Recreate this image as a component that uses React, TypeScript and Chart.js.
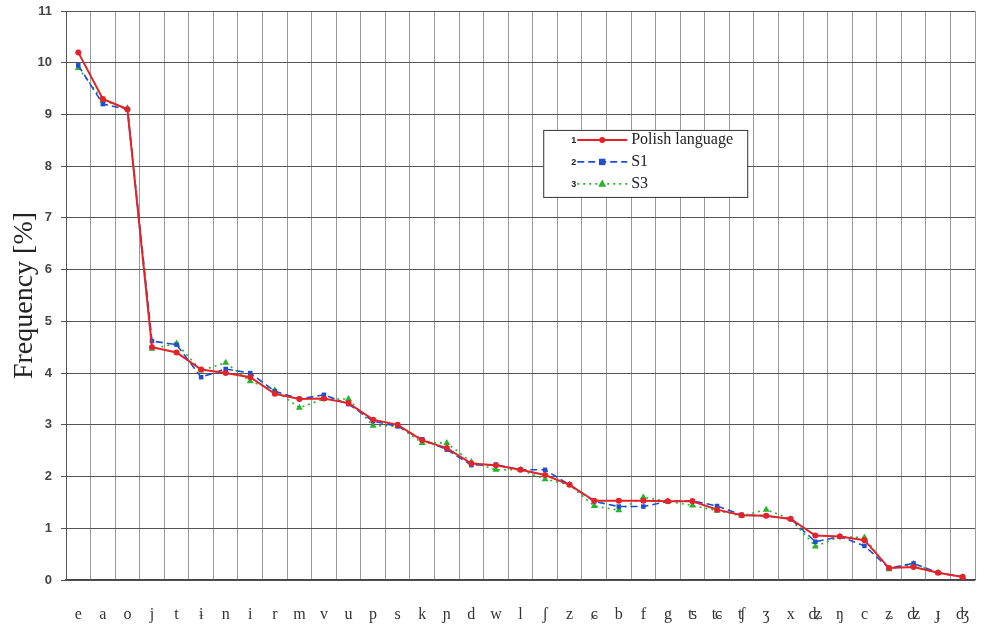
import React, { useEffect, useRef } from "react";
import { Chart, registerables } from "chart.js";

Chart.register(...registerables);

const categories = [
  "e", "a", "o", "j", "t", "ɨ", "n", "i", "r", "m", "v", "u", "p", "s", "k", "ɲ", "d", "w", "l",
  "ʃ", "z", "ɕ", "b", "f", "g", "ʦ", "ʨ", "ʧ", "ʒ", "x", "ʥ", "ŋ", "c", "ʑ", "ʣ", "ɟ", "ʤ",
];

const polish = [
  10.2, 9.3, 9.1, 4.5, 4.4, 4.07, 4.0, 3.92, 3.6, 3.5, 3.51, 3.42, 3.1, 3.0, 2.7, 2.55, 2.25, 2.22,
  2.13, 2.03, 1.84, 1.53, 1.53, 1.53, 1.52, 1.52, 1.36, 1.25, 1.24, 1.18, 0.86, 0.84, 0.77, 0.23,
  0.25, 0.14, 0.06,
];

const s1 = [
  9.95, 9.2, 9.1, 4.62, 4.55, 3.92, 4.08, 4.0, 3.65, 3.5, 3.58, 3.4, 3.07, 2.97, 2.72, 2.52, 2.22,
  2.23, 2.13, 2.13, 1.84, 1.52, 1.42, 1.42, 1.52, 1.53, 1.43, 1.26, 1.24, 1.18, 0.74, 0.84, 0.66,
  0.23, 0.32, 0.14, 0.06,
];

const s3 = [
  9.9, 9.27, 9.12, 4.47, 4.57, 4.05, 4.2, 3.84, 3.67, 3.33, 3.5, 3.5, 2.98, 2.98, 2.65, 2.65, 2.28,
  2.13, 2.13, 1.95, 1.84, 1.43, 1.35, 1.6, 1.52, 1.44, 1.34, 1.24, 1.36, 1.18, 0.65, 0.84, 0.82,
  0.21, 0.31, 0.14, 0.06,
];

const seriesLabels = ["Polish language", "S1", "S3"];
const legendNumbers = ["1", "2", "3"];
const yTitle = "Frequency [%]";

const RED = "#e3222b";
const BLUE = "#1f4fd0";
const GREEN = "#26b52a";

function drawMarker(ctx: CanvasRenderingContext2D, style: string, x: number, y: number, r: number, color: string) {
  ctx.save();
  ctx.fillStyle = color;
  ctx.setLineDash([]);
  ctx.beginPath();
  if (style === "circle") {
    ctx.arc(x, y, r, 0, Math.PI * 2);
  } else if (style === "rect") {
    ctx.rect(x - r, y - r, r * 2, r * 2);
  } else {
    ctx.moveTo(x, y - r * 1.1);
    ctx.lineTo(x + r, y + r * 0.7);
    ctx.lineTo(x - r, y + r * 0.7);
    ctx.closePath();
  }
  ctx.fill();
  ctx.restore();
}

const legendPlugin = {
  id: "customLegend",
  afterDatasetsDraw(chart: any) {
    const { ctx, chartArea } = chart;
    const w = chartArea.right - chartArea.left;
    const h = chartArea.bottom - chartArea.top;
    const bx = chartArea.left + w * 0.525;
    const by = chartArea.top + h * 0.209;
    const bw = 204;
    const bh = 67;
    ctx.save();
    ctx.fillStyle = "#fff";
    ctx.fillRect(bx, by, bw, bh);
    ctx.strokeStyle = "#333";
    ctx.lineWidth = 1;
    ctx.strokeRect(bx + 0.5, by + 0.5, bw, bh);
    chart.data.datasets.forEach((ds: any, i: number) => {
      const y = by + 10 + i * 22;
      ctx.font = "bold 9px 'Liberation Sans', Arial, sans-serif";
      ctx.fillStyle = "#222";
      ctx.textAlign = "right";
      ctx.textBaseline = "middle";
      ctx.fillText(legendNumbers[i], bx + 33, y + 1);
      ctx.strokeStyle = ds.borderColor;
      ctx.lineWidth = ds.borderWidth;
      ctx.setLineDash(ds.borderDash || []);
      ctx.beginPath();
      ctx.moveTo(bx + 34, y);
      ctx.lineTo(bx + 84, y);
      ctx.stroke();
      ctx.setLineDash([]);
      drawMarker(ctx, ds.pointStyle, bx + 59, y, ds.pointRadius, ds.borderColor);
      ctx.font = "16px 'Liberation Serif', 'DejaVu Serif', serif";
      ctx.fillStyle = "#222";
      ctx.textAlign = "left";
      ctx.fillText(ds.label, bx + 88, y);
    });
    ctx.restore();
  },
};

export default function App() {
  const canvasRef = useRef<HTMLCanvasElement | null>(null);

  useEffect(() => {
    document.body.style.margin = "0";
    const canvas = canvasRef.current;
    if (!canvas) return;
    const chart = new Chart(canvas, {
      type: "line",
      data: {
        labels: categories,
        datasets: [
          {
            label: seriesLabels[0],
            data: polish,
            borderColor: RED,
            backgroundColor: RED,
            borderWidth: 2,
            pointStyle: "circle",
            pointRadius: 3,
            pointBorderWidth: 0,
            tension: 0,
          },
          {
            label: seriesLabels[1],
            data: s1,
            borderColor: BLUE,
            backgroundColor: BLUE,
            borderWidth: 1.6,
            borderDash: [7, 4],
            pointStyle: "rect",
            pointRadius: 3.2,
            pointBorderWidth: 0,
            tension: 0,
          },
          {
            label: seriesLabels[2],
            data: s3,
            borderColor: GREEN,
            backgroundColor: GREEN,
            borderWidth: 1.6,
            borderDash: [2, 4],
            pointStyle: "triangle",
            pointRadius: 4,
            pointBorderWidth: 0,
            tension: 0,
          },
        ],
      },
      options: {
        responsive: true,
        maintainAspectRatio: false,
        animation: false,
        layout: { padding: { top: 11, right: 6, left: 0, bottom: 0 } },
        plugins: {
          legend: { display: false },
          tooltip: { enabled: false },
        },
        scales: {
          x: {
            type: "category",
            offset: true,
            grid: { offset: true, color: "#9a9a9a", lineWidth: 1, drawTicks: false },
            border: { color: "#444", width: 1.2 },
            ticks: {
              autoSkip: false,
              maxRotation: 0,
              padding: 25,
              color: "#333",
              font: { family: "'Liberation Serif', 'DejaVu Serif', serif", size: 16 },
            },
            afterFit: (s: any) => {
              s.height = 47;
              s.paddingLeft = 0;
              s.paddingRight = 0;
            },
          },
          y: {
            min: 0,
            max: 11,
            ticks: {
              stepSize: 1,
              padding: 9,
              color: "#444",
              font: { family: "'Liberation Sans', Arial, sans-serif", size: 13, weight: "bold" },
            },
            grid: { color: "#555", lineWidth: 1, tickLength: 5 },
            border: { color: "#555", width: 1 },
            title: {
              display: true,
              text: yTitle,
              color: "#222",
              font: { family: "'Liberation Serif', 'DejaVu Serif', serif", size: 28 },
              padding: { top: 8, bottom: 0 },
            },
            afterFit: (s: any) => {
              s.width = 66;
              s.paddingTop = 0;
              s.paddingBottom = 0;
            },
          },
        },
      },
      plugins: [legendPlugin],
    });
    return () => chart.destroy();
  }, []);

  return (
    <div style={{ position: "absolute", left: 0, top: 0, width: 981, height: 627, background: "#fff" }}>
      <canvas ref={canvasRef} />
    </div>
  );
}
